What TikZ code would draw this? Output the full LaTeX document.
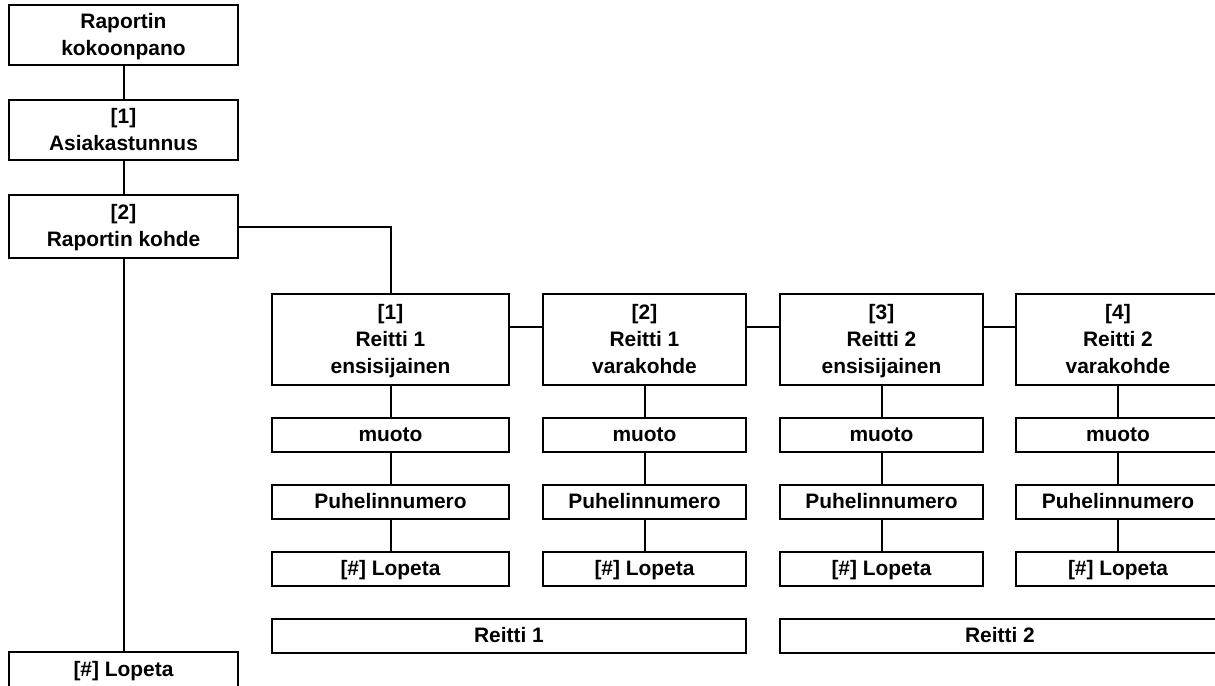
\documentclass[tikz,border=0pt]{standalone}
\usepackage{fontspec}
\setmainfont{Liberation Sans}
\newcommand\mystrut{\rule[-4.5bp]{0pt}{22.5bp}}
\begin{document}
\begin{tikzpicture}[x=1bp,y=-1bp,
  box/.style={draw, line width=2bp, rectangle, inner sep=0pt, outer sep=0pt, align=center,
    font=\bfseries\fontsize{21}{27}\selectfont},
  link/.style={line width=2bp}]
\useasboundingbox (0,0) rectangle (1215,686);
\clip (0,0) rectangle (1215,686);
% left column
\node[box, minimum width=229bp, minimum height=60bp] (k0) at (123.5,35) {\mystrut Raportin\\\mystrut kokoonpano};
\node[box, minimum width=229bp, minimum height=60bp] (k1) at (123.5,130) {\mystrut[1]\\\mystrut Asiakastunnus};
\node[box, minimum width=229bp, minimum height=63bp] (k2) at (123.5,226.5) {\mystrut[2]\\\mystrut Raportin kohde};
\node[box, minimum width=229bp, minimum height=36bp] (kend) at (123.5,670) {\mystrut[\#] Lopeta};
% route boxes
\node[box, minimum width=237bp, minimum height=91bp] (r1) at (390.5,339.5) {\mystrut[1]\\\mystrut Reitti 1\\\mystrut ensisijainen};
\node[box, minimum width=203bp, minimum height=91bp] (r2) at (644.5,339.5) {\mystrut[2]\\\mystrut Reitti 1\\\mystrut varakohde};
\node[box, minimum width=203bp, minimum height=91bp] (r3) at (881.5,339.5) {\mystrut[3]\\\mystrut Reitti 2\\\mystrut ensisijainen};
\node[box, minimum width=204bp, minimum height=91bp] (r4) at (1118,339.5) {\mystrut[4]\\\mystrut Reitti 2\\\mystrut varakohde};
% muoto
\node[box, minimum width=237bp, minimum height=34bp] (m1) at (390.5,435) {\mystrut muoto};
\node[box, minimum width=203bp, minimum height=34bp] (m2) at (644.5,435) {\mystrut muoto};
\node[box, minimum width=203bp, minimum height=34bp] (m3) at (881.5,435) {\mystrut muoto};
\node[box, minimum width=204bp, minimum height=34bp] (m4) at (1118,435) {\mystrut muoto};
% Puhelinnumero
\node[box, minimum width=237bp, minimum height=34bp] (p1) at (390.5,502) {\mystrut Puhelinnumero};
\node[box, minimum width=203bp, minimum height=34bp] (p2) at (644.5,502) {\mystrut Puhelinnumero};
\node[box, minimum width=203bp, minimum height=34bp] (p3) at (881.5,502) {\mystrut Puhelinnumero};
\node[box, minimum width=204bp, minimum height=34bp] (p4) at (1118,502) {\mystrut Puhelinnumero};
% Lopeta
\node[box, minimum width=237bp, minimum height=34bp] (l1) at (390.5,569) {\mystrut[\#] Lopeta};
\node[box, minimum width=203bp, minimum height=34bp] (l2) at (644.5,569) {\mystrut[\#] Lopeta};
\node[box, minimum width=203bp, minimum height=34bp] (l3) at (881.5,569) {\mystrut[\#] Lopeta};
\node[box, minimum width=204bp, minimum height=34bp] (l4) at (1118,569) {\mystrut[\#] Lopeta};
% route group labels
\node[box, minimum width=474bp, minimum height=34bp] (g1) at (509,636) {\mystrut Reitti 1};
\node[box, minimum width=440bp, minimum height=34bp] (g2) at (1000,636) {\mystrut Reitti 2};
% connectors
\coordinate (ly) at (0,327);
\draw[link] (k0.south) -- (k1.north);
\draw[link] (k1.south) -- (k2.north);
\draw[link] (k2.south) -- (kend.north);
\draw[link] (k2.east) -| (r1.north);
\draw[link] (r1.east |- ly) -- (r2.west |- ly);
\draw[link] (r2.east |- ly) -- (r3.west |- ly);
\draw[link] (r3.east |- ly) -- (r4.west |- ly);
\foreach \i in {1,2,3,4}{
  \draw[link] (r\i.south) -- (m\i.north);
  \draw[link] (m\i.south) -- (p\i.north);
  \draw[link] (p\i.south) -- (l\i.north);
}
\end{tikzpicture}
\end{document}
